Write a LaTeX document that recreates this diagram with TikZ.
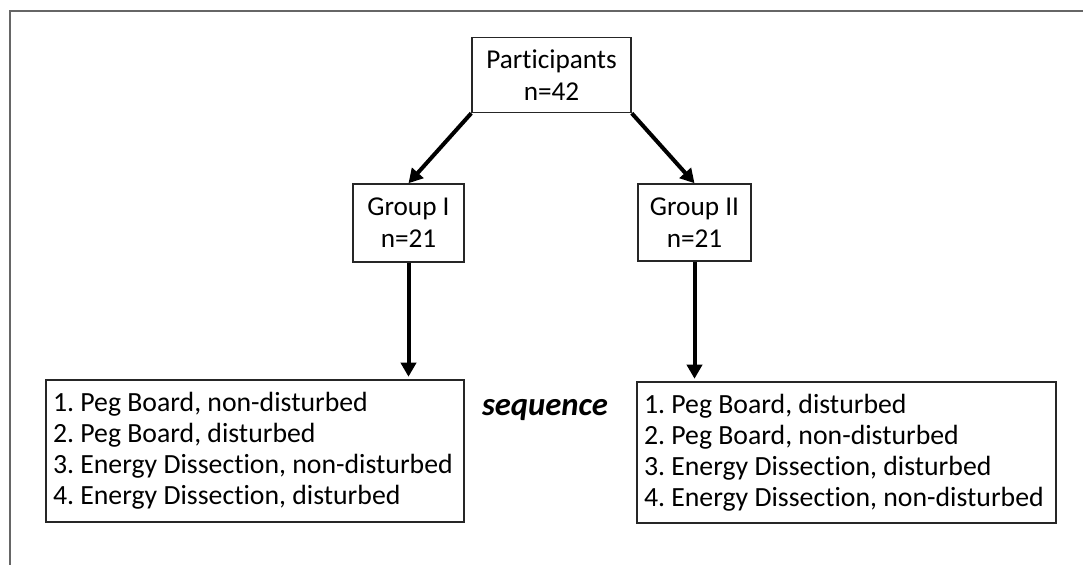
\documentclass[tikz,border=0pt]{standalone}
\usepackage{fontspec}
\setmainfont{Carlito}[Ligatures=NoCommon]
\usetikzlibrary{arrows.meta}

\tikzset{
    box/.style={draw=black!85, line width=0.03cm, align=center, inner sep=0pt,
        font=\fontsize{15.5}{18.2}\selectfont\frenchspacing},
    listbox/.style={box, align=flush left, inner xsep=0.14cm,
        font=\fontsize{15.8}{17.6}\selectfont\frenchspacing},
    flow/.style={line width=0.08cm, -{Triangle[length=0.28cm,width=0.3cm]}}
}

\begin{document}
\begin{tikzpicture}
        \useasboundingbox (0,0) rectangle (21.66,-11.3);
        \draw[black!60, line width=0.04cm] (0.19,-11.3) -- (0.19,-0.23) -- (21.66,-0.23);

        \node[box, minimum width=3.18cm, minimum height=1.5cm] (A) at (11.03,-1.5) {Participants\\n=42};
        \node[box, minimum width=2.22cm, minimum height=1.56cm] (B) at (8.17,-4.46) {Group I\\n=21};
        \node[box, minimum width=2.26cm, minimum height=1.54cm] (C) at (13.89,-4.45) {Group II\\n=21};
        \node[listbox, text width=8.08cm, minimum height=2.84cm] (D) at (5.1,-9.02)
            {1. Peg Board, non-disturbed\\2. Peg Board, disturbed\\3. Energy Dissection, non-disturbed\\4. Energy Dissection, disturbed};
        \node[listbox, text width=8.1cm, minimum height=2.82cm] (E) at (16.93,-9.05)
            {1. Peg Board, disturbed\\2. Peg Board, non-disturbed\\3. Energy Dissection, disturbed\\4. Energy Dissection, non-disturbed};
        \node[font=\fontsize{18.6}{22}\selectfont\bfseries\itshape] (F) at (10.9,-8.2) {sequence};

        \draw[flow] (A.south west) -- (B.north);
        \draw[flow] (A.south east) -- (C.north);
        \draw[flow, shorten >=0.05cm] (B.south) -- (B.south |- D.north);
        \draw[flow, shorten >=0.05cm] (C.south) -- (C.south |- E.north);
    \end{tikzpicture}
\end{document}
